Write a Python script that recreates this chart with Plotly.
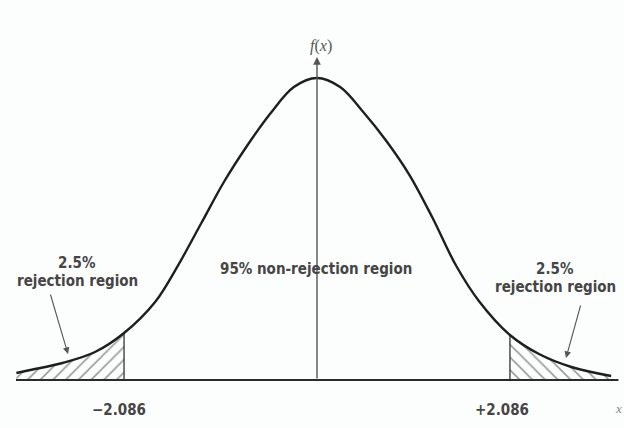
import plotly.graph_objects as go

# t distribution (20 df) drawn as a bell curve with two-tailed 5% rejection regions
CRIT = 2.086
CURVE_X = [-3.25, -3.10, -2.75, -2.40, -2.086, -1.75, -1.50, -1.25, -1.00, -0.75, -0.50, -0.25,
           0.0, 0.25, 0.50, 0.75, 1.00, 1.25, 1.50, 1.75, 2.086, 2.40, 2.75, 3.18]
CURVE_Y = [0.0091, 0.0130, 0.0222, 0.0365, 0.0613, 0.1018, 0.1500, 0.2048, 0.2596, 0.3066,
           0.3483, 0.3822, 0.3940, 0.3822, 0.3496, 0.3118, 0.2674, 0.2113, 0.1500, 0.1031,
           0.0587, 0.0339, 0.0170, 0.0052]
TICK_LABELS = ["\u22122.086", "+2.086"]
TAIL_LABEL = ["2.5%", "rejection region"]
CENTER_LABEL = "95% non-rejection region"

INK = "#1e1e1e"
GREY = "#454545"
LABEL_FONT = "Liberation Sans Narrow, DejaVu Sans Condensed, Arial Narrow, sans-serif"

W, H = 624, 428
X_RANGE = [-3.427, 3.319]
Y_RANGE = [-0.0626, 0.4957]

left_x = [x for x in CURVE_X if x <= -CRIT]
left_y = [y for x, y in zip(CURVE_X, CURVE_Y) if x <= -CRIT]
right_x = [x for x in CURVE_X if x >= CRIT]
right_y = [y for x, y in zip(CURVE_X, CURVE_Y) if x >= CRIT]
y_left_crit = CURVE_Y[CURVE_X.index(-CRIT)]
y_right_crit = CURVE_Y[CURVE_X.index(CRIT)]

fig = go.Figure()

# hatched tails
fig.add_trace(go.Scatter(
    x=left_x, y=left_y, mode="lines", line=dict(width=0, shape="spline"),
    fill="tozeroy", fillcolor="rgba(0,0,0,0)",
    fillpattern=dict(shape="/", size=9, solidity=0.18, fgcolor="#3a3a3a", bgcolor="rgba(0,0,0,0)"),
    hoverinfo="skip", showlegend=False))
fig.add_trace(go.Scatter(
    x=right_x, y=right_y, mode="lines", line=dict(width=0, shape="spline"),
    fill="tozeroy", fillcolor="rgba(0,0,0,0)",
    fillpattern=dict(shape="\\", size=9, solidity=0.18, fgcolor="#3a3a3a", bgcolor="rgba(0,0,0,0)"),
    hoverinfo="skip", showlegend=False))

# boundaries of the rejection regions
fig.add_trace(go.Scatter(
    x=[-CRIT, -CRIT, None, CRIT, CRIT], y=[0, y_left_crit, None, 0, y_right_crit],
    mode="lines", line=dict(color="#333", width=1.3), hoverinfo="skip", showlegend=False))

# horizontal axis
fig.add_trace(go.Scatter(
    x=[-3.254, 3.259], y=[0, 0], mode="lines",
    line=dict(color="#2a2a2a", width=2), hoverinfo="skip", showlegend=False))

# density curve
fig.add_trace(go.Scatter(
    x=CURVE_X, y=CURVE_Y, mode="lines",
    line=dict(color=INK, width=2.4, shape="spline", smoothing=1.0),
    hoverinfo="skip", showlegend=False))

annotations = []
# vertical f(x) axis with arrow
annotations.append(dict(x=0, y=0.4214, ax=0, ay=0, xref="x", yref="y", axref="x", ayref="y",
                        showarrow=True, arrowhead=2, arrowsize=1.1, arrowwidth=1.4,
                        arrowcolor="#555", text=""))
annotations.append(dict(x=0.04, y=0.4214, xref="x", yref="y", xanchor="center", yanchor="bottom",
                        text="<i>f</i>(<i>x</i>)", showarrow=False,
                        font=dict(family="Liberation Serif, DejaVu Serif, serif", size=16, color="#555")))

# critical value labels
for cx, lab in zip([-CRIT, CRIT], TICK_LABELS):
    annotations.append(dict(x=cx - 0.05 if cx < 0 else cx - 0.09, y=0, xref="x", yref="y",
                            xanchor="center", yanchor="middle", yshift=-30,
                            text="<b>%s</b>" % lab, showarrow=False,
                            font=dict(family=LABEL_FONT, size=15, color=GREY)))

annotations.append(dict(x=1.0, y=1 - 408 / H, xref="paper", yref="paper",
                        xanchor="right", yanchor="middle",
                        text="<i>x</i>", showarrow=False,
                        font=dict(family="Liberation Serif, serif", size=13, color="#888")))

# region labels
annotations.append(dict(x=316 / W, y=1 - 269 / H, xref="paper", yref="paper",
                        xanchor="center", yanchor="middle",
                        text="<b>%s</b>" % CENTER_LABEL, showarrow=False,
                        font=dict(family=LABEL_FONT, size=15, color=GREY)))
for cx, cy in [(77, 263), (555, 269)]:
    annotations.append(dict(x=cx / W, y=1 - cy / H, xref="paper", yref="paper",
                            xanchor="center", yanchor="middle",
                            text="<b>%s</b>" % TAIL_LABEL[0], showarrow=False,
                            font=dict(family=LABEL_FONT, size=15, color=GREY)))
    annotations.append(dict(x=cx / W, y=1 - (cy + 18) / H, xref="paper", yref="paper",
                            xanchor="center", yanchor="middle",
                            text="<b>%s</b>" % TAIL_LABEL[1], showarrow=False,
                            font=dict(family=LABEL_FONT, size=15, color=GREY)))

# pointer arrows into the tails (tail offsets in pixels)
for (tx, ty), (hx, hy) in [((68, 354), (50, 293)), ((566, 358), (581, 304))]:
    annotations.append(dict(x=tx / W, y=1 - ty / H, ax=hx - tx, ay=hy - ty,
                            xref="paper", yref="paper",
                            showarrow=True, arrowhead=2, arrowsize=1.2, arrowwidth=1.1,
                            arrowcolor="#555", text=""))

fig.update_layout(
    width=W, height=H, margin=dict(l=0, r=0, t=0, b=0),
    paper_bgcolor="#fcfdfd", plot_bgcolor="#fcfdfd",
    xaxis=dict(range=X_RANGE, visible=False, fixedrange=True),
    yaxis=dict(range=Y_RANGE, visible=False, fixedrange=True),
    annotations=annotations, showlegend=False)

fig.write_html("out.html")
